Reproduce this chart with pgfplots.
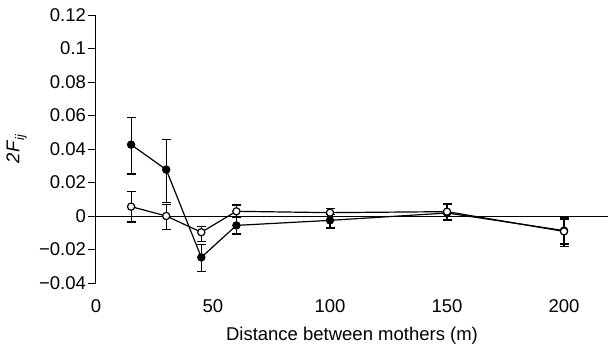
\documentclass[border=0pt]{standalone}
\usepackage{fontspec}
\setmainfont{Liberation Sans}
\usepackage{pgfplots}
\pgfplotsset{compat=1.18}
\pgfplotstableread{
x y ep em
15 0.0426 0.0161 0.0175
30 0.0277 0.0179 0.0197
45 -0.0247 0.0077 0.0083
60 -0.0056 0.0046 0.0051
100 -0.0026 0.0036 0.0046
150 0.0018 0.0050 0.0045
200 -0.0087 0.0075 0.0096
}\filled
\pgfplotstableread{
x y ep em
15 0.0056 0.0091 0.0092
30 0.0 0.0070 0.0080
45 -0.0097 0.0036 0.0054
60 0.0028 0.0038 0.0038
100 0.0020 0.0024 0.0024
150 0.0026 0.0046 0.0046
200 -0.0092 0.0070 0.0075
}\opened
\newcommand{\bigf}{\fontsize{18.5pt}{22pt}\selectfont}
\begin{document}
\begin{tikzpicture}[font=\bigf]
\useasboundingbox (-96pt,-63pt) rectangle (512pt,283pt);
\begin{axis}[
  at={(0,0)}, anchor=south west,
  scale only axis,
  width=512pt, height=268pt,
  xmin=0, xmax=218.8,
  ymin=-0.04, ymax=0.12,
  axis y line=left,
  axis x line=bottom,
  x axis line style={draw=none},
  y axis line style={-, line width=1pt},
  ytick={-0.04,-0.02,0,0.02,0.04,0.06,0.08,0.1,0.12},
  yticklabels={−0.04,−0.02,0,0.02,0.04,0.06,0.08,0.1,0.12},
  xtick={0,50,100,150,200},
  xticklabels={0,50,100,150,200},
  x tick style={draw=none},
  tick align=outside,
  major tick length=8pt,
  y tick style={line width=1pt, black},
  every tick label/.append style={font=\bigf},
  yticklabel style={xshift=1.5pt},
  xticklabel style={anchor=center, yshift=-15pt},
  every axis label/.append style={font=\bigf},
  xlabel={Distance between mothers (m)},
  xlabel style={at={(axis description cs:0.5,-0.198)}, anchor=center},
  ylabel={\textit{2F}\raisebox{-0.5ex}{\fontsize{12.5pt}{14pt}\selectfont\textit{ij}}},
  ylabel style={at={(axis description cs:-0.155,0.5)}, anchor=center},
  clip=false,
]
\addplot[black, line width=1pt, forget plot] coordinates {(0,0) (218.8,0)};
\addplot[black, line width=1.2pt, mark=*, mark size=3.6pt, mark options={fill=black, solid},
  error bars/.cd, y dir=both, y explicit, error bar style={line width=1.2pt},
  error mark options={rotate=90, mark size=4.5pt, line width=1.2pt}]
  table[x=x, y=y, y error plus=ep, y error minus=em] {\filled};
\addplot[black, line width=1.2pt, mark=*, mark size=3.6pt, mark options={fill=white, solid},
  error bars/.cd, y dir=both, y explicit, error bar style={line width=1.2pt},
  error mark options={rotate=90, mark size=4.5pt, line width=1.2pt}]
  table[x=x, y=y, y error plus=ep, y error minus=em] {\opened};
\end{axis}
\end{tikzpicture}
\end{document}
